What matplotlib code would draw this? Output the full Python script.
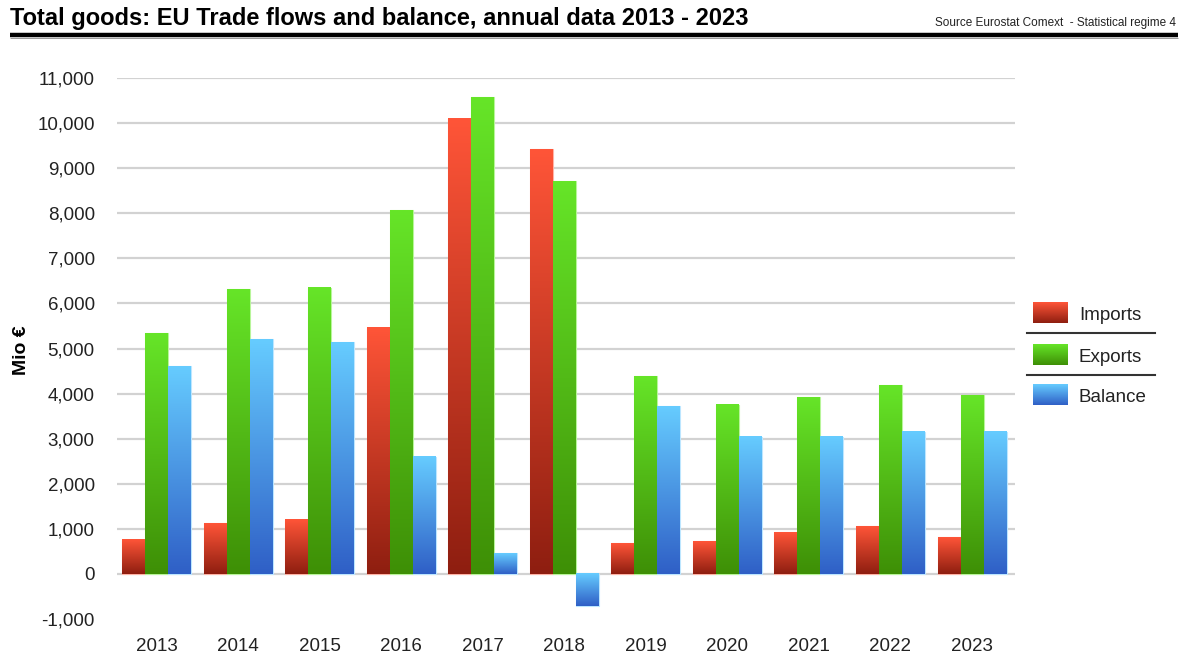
"""
EU trade flows and balance, annual data 2013 - 2023
"""
import numpy as np
import matplotlib.pyplot as plt
from matplotlib.colors import LinearSegmentedColormap
from matplotlib.ticker import FuncFormatter

plt.rcParams['font.family'] = ['Liberation Sans', 'DejaVu Sans']

years = ["2013", "2014", "2015", "2016", "2017", "2018",
         "2019", "2020", "2021", "2022", "2023"]
imports = [755, 1130, 1200, 5460, 10100, 9420, 680, 720, 930, 1060, 820]
exports = [5345, 6320, 6350, 8070, 10570, 8710, 4390, 3750, 3920, 4180, 3960]
balance = [4610, 5210, 5140, 2600, 460, -710, 3720, 3040, 3040, 3150, 3150]

series_names = ["Imports", "Exports", "Balance"]
# (bottom colour, top colour) of each bar gradient
gradients = [("#8E1E10", "#FF5538"),
             ("#3E8F06", "#66E528"),
             ("#2F5FC6", "#66CCFF")]
edges = ["#FFB3A6", "#B8F59A", "#BCE6FF"]

W, H = 1184, 659
fig = plt.figure(figsize=(W / 100, H / 100), dpi=100)
ax = fig.add_axes([117 / W, 1 - 619 / H, (1015 - 117) / W, (619 - 78) / H])

grad = np.linspace(0, 1, 256).reshape(-1, 1)
x = np.arange(len(years))
width = 0.282
for i, vals in enumerate([imports, exports, balance]):
    cmap = LinearSegmentedColormap.from_list(series_names[i], gradients[i])
    bars = ax.bar(x + (i - 1) * width, vals, width, color=gradients[i][1],
                  edgecolor=edges[i], linewidth=0.8, zorder=2)
    for b in bars:
        y0 = min(b.get_y(), b.get_y() + b.get_height())
        y1 = max(b.get_y(), b.get_y() + b.get_height())
        ax.imshow(grad, cmap=cmap, origin="lower", aspect="auto",
                  extent=[b.get_x(), b.get_x() + b.get_width(), y0, y1],
                  zorder=3)

for v in range(0, 11001, 1000):
    ax.axhline(v, color="#D2D2D2", linewidth=1.6, zorder=1)

ax.set_xlim(-0.484, len(years) - 1 + 0.527)
ax.set_ylim(-1000, 11000)
ax.set_yticks(range(-1000, 11001, 1000))
ax.yaxis.set_major_formatter(FuncFormatter(lambda v, p: f"{int(v):,}"))
ax.set_xticks(x)
ax.set_xticklabels(years)
ax.tick_params(axis="y", length=0, pad=16, labelsize=13.5, labelcolor="#222222")
ax.tick_params(axis="x", length=0, pad=14, labelsize=13.5, labelcolor="#222222")
for s in ax.spines.values():
    s.set_visible(False)

# overlay in pixel coordinates for title, rule and legend
ov = fig.add_axes([0, 0, 1, 1], zorder=5)
ov.axis("off")
ov.patch.set_alpha(0)

ov.text(10, 18, "Total goods: EU Trade flows and balance, annual data 2013 - 2023",
        fontweight="bold", fontsize=17, va="center", ha="left")
ov.text(1176, 23, "Source Eurostat Comext  - Statistical regime 4",
        fontsize=8.5, va="center", ha="right", color="#222222")
ov.plot([10, 1178], [35, 35], color="black", linewidth=3.2, solid_capstyle="butt")
ov.plot([10, 1178], [38.3, 38.3], color="#999999", linewidth=0.7, solid_capstyle="butt")

ov.text(21, 350, "Mio €", rotation=90, fontweight="bold", fontsize=14,
        va="center", ha="center")

leg_tops = [302, 344, 384]
for i, name in enumerate(series_names):
    cmap = LinearSegmentedColormap.from_list(name + "_leg", gradients[i])
    t = leg_tops[i]
    ov.imshow(grad, cmap=cmap, origin="lower", aspect="auto",
              extent=[1033, 1068, t + 21, t])
    ov.text(1079, t + 13, name, fontsize=13.5, va="center", ha="left",
            color="#222222")
for ly in [333, 375]:
    ov.plot([1027, 1155], [ly, ly], color="#333333", linewidth=1.5)
ov.set_xlim(0, W)
ov.set_ylim(H, 0)

fig.savefig("out.png", dpi=100)
